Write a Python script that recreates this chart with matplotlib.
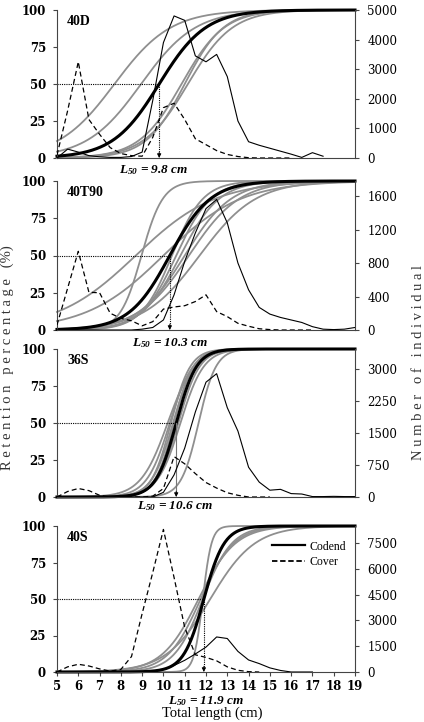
import numpy as np
import matplotlib
matplotlib.use("Agg")
import matplotlib.pyplot as plt
from matplotlib.lines import Line2D

plt.rcParams["font.family"] = "DejaVu Serif"
plt.rcParams["mathtext.fontset"] = "custom"
plt.rcParams["mathtext.it"] = "Liberation Serif:italic:bold"
plt.rcParams["mathtext.rm"] = "Liberation Serif:italic:bold"

# length classes (cm)
LENGTHS = [5.0, 5.5, 6.0, 6.5, 7.0, 7.5, 8.0, 8.5, 9.0, 9.5, 10.0, 10.5, 11.0, 11.5,
           12.0, 12.5, 13.0, 13.5, 14.0, 14.5, 15.0, 15.5, 16.0, 16.5, 17.0, 17.5,
           18.0, 18.5, 19.0]
nan = np.nan

PANELS = ["40D", "40T90", "36S", "40S"]
L50 = [9.8, 10.3, 10.6, 11.9]
MEAN_SR = [2.4, 2.1, 1.05, 1.05]

# individual haul selection curves: L50 and selection range
HAUL_L50 = [
    [7.7, 8.95, 10.85, 11.0, 11.15],
    [8.7, 10.0, 8.97, 10.4, 10.6, 10.8, 11.0, 11.2, 11.7],
    [10.2, 10.3, 10.35, 10.45, 10.5, 10.7, 10.8, 11.65],
    [11.65, 11.75, 11.85, 12.2, 11.85],
]
HAUL_SR = [
    [2.9, 2.8, 2.2, 2.0, 2.3],
    [4.1, 4.0, 1.1, 1.6, 1.8, 2.0, 2.4, 2.6, 2.9],
    [1.4, 1.2, 1.0, 1.1, 1.0, 1.1, 1.2, 0.9],
    [1.9, 1.7, 1.5, 2.3, 0.45],
]

# number of individuals per length class
CODEND = [
    [0, 300, 200, 80, 40, 20, 20, 50, 200, 1950, 3900, 4800, 4650, 3450, 3250, 3500,
     2750, 1250, 550, 430, 330, 230, 130, 20, 180, 60, nan, nan, nan],
    [0, 0, 0, 0, 0, 0, 0, 0, 10, 30, 120, 420, 820, 1160, 1450, 1560, 1280, 800, 480,
     270, 190, 150, 120, 90, 40, 10, 5, 10, 30],
    [0, 0, 0, 0, 0, 0, 0, 0, 0, 0, 110, 520, 1150, 2000, 2700, 2900, 2100, 1550, 700,
     350, 160, 180, 80, 70, 10, 10, 15, 10, 10],
    [0, 0, 0, 0, 0, 0, 0, 0, 0, 30, 150, 380, 680, 1050, 1450, 2040, 1950, 1200, 700,
     490, 240, 90, 0, 0, 0, nan, nan, nan, nan],
]
COVER = [
    [100, 1600, 3250, 1300, 800, 350, 150, 80, 60, 700, 1700, 1850, 1300, 650, 450,
     250, 120, 50, 10, 0, 0, 0, 0, nan, nan, nan, nan, nan, nan],
    [60, 500, 940, 450, 445, 200, 140, 110, 50, 100, 250, 275, 290, 340, 420, 220,
     160, 80, 45, 15, 5, 0, 0, 0, 0, nan, nan, nan, nan],
    [0, 130, 200, 150, 40, 0, 0, 0, 0, 20, 200, 950, 780, 550, 340, 210, 100, 40, 0,
     0, 0, nan, nan, nan, nan, nan, nan, nan, nan],
    [0, 300, 450, 350, 180, 50, 150, 900, 3400, 5800, 8300, 5500, 2600, 1000, 850,
     650, 300, 100, 20, 0, nan, nan, nan, nan, nan, nan, nan, nan, nan],
]
RIGHT_MAX = [5000, 1780, 3480, 8500]
RIGHT_TICKS = [
    [0, 1000, 2000, 3000, 4000, 5000],
    [0, 400, 800, 1200, 1600],
    [0, 750, 1500, 2250, 3000],
    [0, 1500, 3000, 4500, 6000, 7500],
]
X_TICKS = [5, 6, 7, 8, 9, 10, 11, 12, 13, 14, 15, 16, 17, 18, 19]


def logistic(x, l50, sr):
    return 100.0 / (1.0 + np.exp(-2.0 * np.log(3.0) / sr * (x - l50)))


W, H = 424, 722
fig = plt.figure(figsize=(W / 100, H / 100), dpi=100)

# axes boxes in pixels: (top, bottom)
boxes = [(10, 158), (181, 330), (349, 497), (526, 672)]
label_x = [9.55, 10.3, 10.55, 12.0]
label_off = [12, 13, 9, 29]
xs = np.linspace(5, 19, 400)

for i, name in enumerate(PANELS):
    top, bottom = boxes[i]
    ax = fig.add_axes([57 / W, 1 - bottom / H, 298 / W, (bottom - top) / H])
    ax.set_xlim(5, 19)
    ax.set_ylim(0, 100)

    for l50, sr in zip(HAUL_L50[i], HAUL_SR[i]):
        ax.plot(xs, logistic(xs, l50, sr), color="#8f8f8f", lw=1.3, clip_on=False)
    ax.plot(xs, logistic(xs, L50[i], MEAN_SR[i]), color="black", lw=2.2, clip_on=False)

    ax.plot([5, L50[i]], [50, 50], color="black", lw=0.8, ls=(0, (1, 1)))
    ax.plot([L50[i], L50[i]], [50, 3], color="#777777" if i == 2 else "black",
            lw=0.8, ls="-" if i == 2 else (0, (1, 1)))
    ax.annotate("", xy=(L50[i], 0), xytext=(L50[i], 4),
                arrowprops=dict(arrowstyle="-|>", color="black", lw=0.6,
                                mutation_scale=6, shrinkA=0, shrinkB=0))

    ax.text(0.034, 0.92, name, transform=ax.transAxes, ha="left", va="center",
            fontsize=10, fontweight="bold", family="Liberation Serif")

    ax.annotate(r"$L_{50}$ = %s cm" % L50[i], xy=(label_x[i], 0),
                xycoords=("data", "axes fraction"), xytext=(0, -label_off[i]),
                textcoords="offset pixels", ha="center", va="center", fontsize=9.5,
                fontweight="bold", fontstyle="italic", family="Liberation Serif",
                annotation_clip=False)

    ax.set_yticks([0, 25, 50, 75, 100])
    ax.tick_params(axis="y", labelsize=8.5, length=3, pad=5, color="#444444")
    for lbl in ax.get_yticklabels():
        lbl.set_fontweight("bold")
    if i == 3:
        ax.set_xticks(X_TICKS)
        ax.tick_params(axis="x", labelsize=8.5, length=3, pad=3, color="#444444")
        for lbl in ax.get_xticklabels():
            lbl.set_fontweight("bold")
    else:
        ax.set_xticks([])
    ax.spines["top"].set_visible(False)
    ax.spines["right"].set_visible(False)
    for s in ("left", "bottom"):
        ax.spines[s].set_color("#444444")
        ax.spines[s].set_linewidth(0.8)

    ax2 = ax.twinx()
    ax2.set_ylim(0, RIGHT_MAX[i])
    ax2.set_yticks(RIGHT_TICKS[i])
    ax2.plot(LENGTHS, CODEND[i], color="black", lw=0.8)
    ax2.plot(LENGTHS, COVER[i], color="black", lw=0.9, dashes=(4, 2.5))
    ax2.tick_params(axis="y", labelsize=8.5, length=3, pad=6, color="#444444")
    for s in ("top", "left", "bottom"):
        ax2.spines[s].set_visible(False)
    ax2.spines["right"].set_color("#444444")
    ax2.spines["right"].set_linewidth(0.8)

    if i == 3:
        handles = [Line2D([], [], color="black", lw=1.6, label="Codend"),
                   Line2D([], [], color="black", lw=1.3, ls=(0, (3, 1.5)), label="Cover")]
        ax2.legend(handles=handles, loc="upper left", bbox_to_anchor=(0.72, 0.9),
                   frameon=False, borderpad=0, borderaxespad=0, handlelength=2.8,
                   handletextpad=0.45, labelspacing=0.3,
                   prop={"family": "Liberation Serif", "size": 8.5})

fig.text(7 / W, 1 - 358 / H, "R e t e n t i o n   p e r c e n t a g e   (%)",
         rotation=90, ha="center", va="center", fontsize=10.5,
         family="Liberation Serif", color="#333333")
fig.text(419 / W, 1 - 362 / H, "N u m b e r   o f   i n d i v i d u a l",
         rotation=90, ha="center", va="center", fontsize=10.5,
         family="Liberation Serif", color="#333333")
fig.text(212 / W, 1 - 720 / H, "Total length (cm)", ha="center", va="bottom",
         fontsize=10.5, family="Liberation Serif")

fig.savefig("out.png", dpi=100)
